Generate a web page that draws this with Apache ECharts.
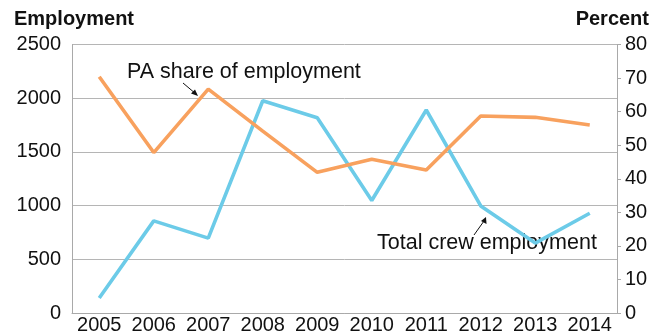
<!DOCTYPE html>
<html>
<head>
<meta charset="utf-8">
<script src="https://cdn.jsdelivr.net/npm/echarts@6/dist/echarts.min.js"></script>
<style>
html,body{margin:0;padding:0;background:#fff;}
#chart{width:652px;height:335px;}
</style>
</head>
<body>
<div id="chart"></div>
<script>
var years = ['2005','2006','2007','2008','2009','2010','2011','2012','2013','2014'];
var totalCrewEmployment = [140, 858, 697, 1976, 1818, 1047, 1890, 997, 651, 929];
var paSharePercent = [70.4, 47.8, 66.7, 54.2, 41.9, 45.8, 42.6, 58.7, 58.3, 56.0];
var leftTicks = [0, 500, 1000, 1500, 2000, 2500];
var rightTicks = [0, 10, 20, 30, 40, 50, 60, 70, 80];

var font = 'Liberation Sans, Arial, Helvetica, sans-serif';
var chart = echarts.init(document.getElementById('chart'), null, {renderer: 'canvas'});
var gray = '#a9a9a9';

chart.setOption({
  animation: false,
  backgroundColor: '#fff',
  grid: {left: 72, right: 35, top: 44.5, bottom: 22, containLabel: false},
  xAxis: {
    type: 'category',
    data: years,
    boundaryGap: true,
    axisLine: {show: true, lineStyle: {color: gray, width: 1}},
    axisTick: {show: false},
    axisLabel: {color: '#111', fontSize: 20, fontFamily: font, margin: 2, interval: 0}
  },
  yAxis: [{
    type: 'value',
    min: leftTicks[0], max: leftTicks[leftTicks.length - 1], interval: 500,
    position: 'left',
    axisLine: {show: true, lineStyle: {color: gray, width: 1}},
    axisTick: {show: false},
    splitLine: {show: true, lineStyle: {color: '#b5b5b5', width: 1}},
    axisLabel: {color: '#111', fontSize: 20, fontFamily: font, margin: 11,
      formatter: function (v) { return String(v); }}
  }, {
    type: 'value',
    min: rightTicks[0], max: rightTicks[rightTicks.length - 1], interval: 10,
    position: 'right',
    axisLine: {show: true, lineStyle: {color: gray, width: 1}},
    axisTick: {show: true, length: 4, inside: false, lineStyle: {color: gray}},
    splitLine: {show: false},
    axisLabel: {color: '#111', fontSize: 20, fontFamily: font, margin: 8}
  }],
  series: [{
    name: 'Total crew employment',
    type: 'line',
    yAxisIndex: 0,
    data: totalCrewEmployment,
    symbol: 'none',
    lineStyle: {color: '#6CCBE8', width: 3.6},
    itemStyle: {color: '#6CCBE8'},
    z: 2
  }, {
    name: 'PA share of employment',
    type: 'line',
    yAxisIndex: 1,
    data: paSharePercent,
    symbol: 'none',
    lineStyle: {color: '#F8A15E', width: 3.6},
    itemStyle: {color: '#F8A15E'},
    z: 3
  }],
  graphic: [
    {type: 'text', x: 14, y: 19, style: {text: 'Employment', font: 'bold 20px ' + font, fill: '#111', verticalAlign: 'middle'}},
    {type: 'text', x: 649, y: 19, style: {text: 'Percent', font: 'bold 20px ' + font, fill: '#111', align: 'right', verticalAlign: 'middle'}},
    {type: 'text', x: 127, y: 72.5, style: {text: 'PA share of employment', font: '21.5px ' + font, fill: '#111', verticalAlign: 'middle'}},
    {type: 'line', shape: {x1: 183, y1: 83, x2: 196, y2: 94}, style: {stroke: '#111', lineWidth: 1}},
    {type: 'polygon', shape: {points: [[198, 96], [191, 93.5], [195, 89.5]]}, style: {fill: '#111'}},
    {type: 'text', x: 377, y: 243.5, style: {text: 'Total crew employment', font: '21.5px ' + font, fill: '#111', verticalAlign: 'middle'}},
    {type: 'line', shape: {x1: 474, y1: 235, x2: 484, y2: 221}, style: {stroke: '#111', lineWidth: 1}},
    {type: 'polygon', shape: {points: [[486, 217], [486.5, 224], [481, 221]]}, style: {fill: '#111'}}
  ]
});
</script>
</body>
</html>
